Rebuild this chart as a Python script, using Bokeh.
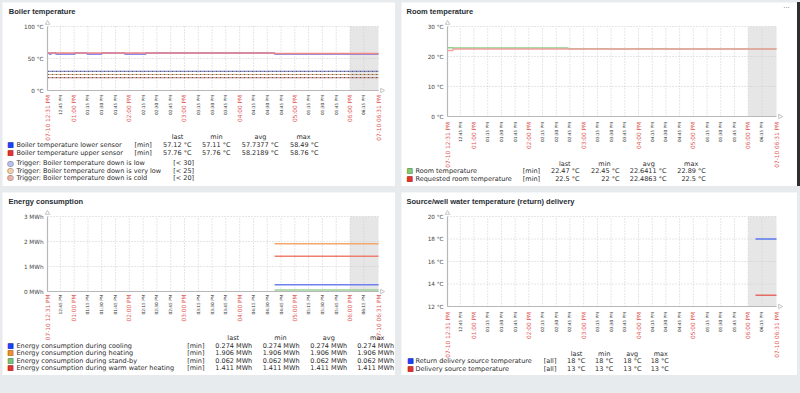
import math
from bokeh.plotting import figure
from bokeh.models import Range1d, BoxAnnotation, Spacer
from bokeh.layouts import row, column
from bokeh.core.properties import value
from bokeh.embed import file_html
from bokeh.resources import INLINE

# ---------------- data ----------------
# time axis: minutes after midnight on 07-10
t_start = 751   # 12:31 PM
t_end = 1111    # 06:31 PM
shade_start = 1080  # 06:00 PM
tick_times = [751, 765, 780, 795, 810, 825, 840, 855, 870, 885, 900, 915, 930,
              945, 960, 975, 990, 1005, 1020, 1035, 1050, 1065, 1080, 1095, 1111]
tick_labels = ["07-10 12:31 PM", "12:45 PM", "01:00 PM", "01:15 PM", "01:30 PM", "01:45 PM",
               "02:00 PM", "02:15 PM", "02:30 PM", "02:45 PM", "03:00 PM", "03:15 PM",
               "03:30 PM", "03:45 PM", "04:00 PM", "04:15 PM", "04:30 PM", "04:45 PM",
               "05:00 PM", "05:15 PM", "05:30 PM", "05:45 PM", "06:00 PM", "06:15 PM",
               "07-10 06:31 PM"]

# Boiler temperature
boiler_lower_t = [751, 753, 755, 760, 781, 794, 810, 835, 858, 998, 1111]
boiler_lower_v = [58.49, 57.11, 58.49, 57.11, 58.49, 57.11, 58.49, 57.11, 58.49, 57.12, 57.12]
boiler_upper_t = [751, 998, 1111]
boiler_upper_v = [58.76, 57.76, 57.76]
boiler_names = ["Boiler temperature lower sensor", "Boiler temperature upper sensor"]
boiler_stats = [["57.12 °C", "57.11 °C", "57.7377 °C", "58.49 °C"],
                ["57.76 °C", "57.76 °C", "58.2189 °C", "58.76 °C"]]
trigger_values = [30, 25, 20]
trigger_names = ["Trigger: Boiler temperature down is low",
                 "Trigger: Boiler temperature down is very low",
                 "Trigger: Boiler temperature down is cold"]
trigger_limits = ["[< 30]", "[< 25]", "[< 20]"]
boiler_yticks = [0, 50, 100]
boiler_ylabels = ["0 °C", "50 °C", "100 °C"]

# Room temperature
room_t = [751, 757, 883, 929, 953, 991, 1111]
room_v = [22.89, 22.85, 22.62, 22.5, 22.62, 22.47, 22.47]
req_t = [751, 757, 1111]
req_v = [22.0, 22.5, 22.5]
room_names = ["Room temperature", "Requested room temperature"]
room_stats = [["22.47 °C", "22.45 °C", "22.6411 °C", "22.89 °C"],
              ["22.5 °C", "22 °C", "22.4863 °C", "22.5 °C"]]
room_yticks = [0, 10, 20, 30]
room_ylabels = ["0 °C", "10 °C", "20 °C", "30 °C"]

# Energy consumption (MWh)
energy_t = [998, 1111]
energy_cooling = [0.274, 0.274]
energy_heating = [1.906, 1.906]
energy_standby = [0.062, 0.062]
energy_warm = [1.411, 1.411]
energy_names = ["Energy consumption during cooling", "Energy consumption during heating",
                "Energy consumption during stand-by", "Energy consumption during warm water heating"]
energy_stats = [["0.274 MWh"] * 4, ["1.906 MWh"] * 4, ["0.062 MWh"] * 4, ["1.411 MWh"] * 4]
energy_yticks = [0, 1, 2, 3]
energy_ylabels = ["0 MWh", "1 MWh", "2 MWh", "3 MWh"]

# Source / well water
source_t = [1088, 1111]
source_return = [18, 18]
source_delivery = [13, 13]
source_names = ["Return delivery source temperature", "Delivery source temperature"]
source_stats = [["18 °C"] * 4, ["13 °C"] * 4]
source_yticks = [12, 14, 16, 18, 20]
source_ylabels = ["12 °C", "14 °C", "16 °C", "18 °C", "20 °C"]

stat_headers = ["last", "min", "avg", "max"]

# ---------------- styling ----------------
FONT = "DejaVu Sans"
TITLE_FONT = "Liberation Sans"
TXT = "#2b2b2b"
RED_LBL = "#e05a58"
GREY_LBL = "#2e2e2e"
AXIS_C = "#b8b8b8"
GRID_C = "#cdcdcd"


class Panel:
    """One dashboard widget: a single figure whose frame covers the whole widget.
    The default ranges are set so that the plot area (L..W-R, T..T+FH) shows
    t_start..t_end and ymin..ymax; the 'px'/'py' ranges address widget pixels."""

    def __init__(self, g, title, ymin, ymax, yticks, ylabels):
        self.g = g
        W, H, L, R, T, FH = g["W"], g["H"], g["L"], g["R"], g["T"], g["FH"]
        self.W, self.H = W, H
        kx = (t_end - t_start) / (W - L - R)
        ky = (ymax - ymin) / FH
        p = figure(width=W, height=H,
                   x_range=Range1d(t_start - L * kx, t_end + R * kx),
                   y_range=Range1d(ymin - (H - T - FH) * ky, ymax + T * ky),
                   output_backend="svg", toolbar_location=None,
                   x_axis_location=None, y_axis_location=None, min_border=0, title=None)
        p.extra_x_ranges = {"px": Range1d(0, W)}
        p.extra_y_ranges = {"py": Range1d(0, H)}
        p.grid.visible = False
        p.outline_line_color = None
        p.background_fill_color = "white"
        p.border_fill_color = "white"
        self.p = p
        # shaded period
        p.add_layout(BoxAnnotation(left=shade_start, right=t_end, bottom=ymin, top=ymax,
                                   fill_color="#e6e6e6", fill_alpha=1, line_color=None, level="image"))
        # grid
        p.segment(x0=tick_times[1:-1], y0=[ymin] * (len(tick_times) - 2), x1=tick_times[1:-1],
                  y1=[ymax] * (len(tick_times) - 2), line_color=GRID_C, line_dash="1 2", line_width=1)
        p.segment(x0=[t_start] * len(yticks), y0=yticks, x1=[t_end] * len(yticks), y1=yticks,
                  line_color=GRID_C, line_dash="1 2", line_width=1)
        self.ymin, self.ymax = ymin, ymax
        # y tick labels
        p.text(x=[t_start] * len(yticks), y=yticks, text=ylabels, x_offset=-4,
               text_align="right", text_baseline="middle", text_font=value(FONT),
               text_font_size=value("5.7px"), text_color="#444444")
        # time labels
        ty = H - g["ty"]
        major = [i for i, (t, lab) in enumerate(zip(tick_times, tick_labels))
                 if lab.startswith("07-10") or t % 60 == 0]
        minor = [i for i in range(len(tick_times)) if i not in major]
        for idx, size, col in ((major, "5.8px", RED_LBL), (minor, "4.3px", GREY_LBL)):
            p.text(x=[tick_times[i] for i in idx], y=[ty] * len(idx),
                   text=[tick_labels[i] for i in idx], angle=math.pi / 2, text_align="right",
                   text_baseline="middle", text_font=value(FONT), text_font_size=value(size),
                   text_color=col, y_range_name="py")
        # title
        self.text(g["tx"], 8.5, title, size="7.5px", color="#1f2c33", font=TITLE_FONT, style="bold")

    def axes(self):
        p, g = self.p, self.g
        p.line(x=[t_start, t_end], y=[self.ymin, self.ymin], line_color=AXIS_C, line_width=1.2)
        p.line(x=[t_start, t_start], y=[self.ymin, self.ymax], line_color=AXIS_C, line_width=1.2)
        p.scatter(x=[g["L"]], y=[self.H - g["T"] + 3.5], marker="triangle", size=4.5,
                  line_color="#c4c4c4", fill_color="white", x_range_name="px", y_range_name="py")
        p.scatter(x=[self.W - g["R"] + 3.5], y=[self.H - g["T"] - g["FH"]], marker="triangle",
                  angle=-math.pi / 2, size=4.5, line_color="#c4c4c4", fill_color="white",
                  x_range_name="px", y_range_name="py")

    def text(self, px, py, text, size="6.5px", color=TXT, align="left", font=FONT, style="normal"):
        self.p.text(x=[px], y=[self.H - py], text=[text], text_font=value(font),
                    text_font_size=value(size), text_color=color, text_align=align,
                    text_baseline="middle", text_font_style=style,
                    x_range_name="px", y_range_name="py")

    def square(self, px, py, fill, border):
        self.text(px, py, "■", size="7px", color=fill, align="center")
        self.text(px, py, "□", size="7px", color=border, align="center")

    def circle(self, px, py, fill, border):
        self.text(px, py, "●", size="8px", color=fill, align="center")
        self.text(px, py, "○", size="8px", color=border, align="center")

    def stats(self, names, stats, fills, borders, rows_y, header_y, tag, tag_x, col_right, head_x, sq_x):
        for h, hx in zip(stat_headers, head_x):
            self.text(hx, header_y, h, align="center")
        for name, st, f, b, y in zip(names, stats, fills, borders, rows_y):
            self.square(sq_x, y, f, b)
            self.text(14, y, name)
            self.text(tag_x, y, tag)
            for v, cx in zip(st, col_right):
                self.text(cx, y, v, align="right")


gTL = dict(W=393, H=184, L=45, R=17, T=24, FH=64, tx=6.3, ty=92.5)
gTR = dict(W=396, H=184, L=46, R=21, T=24, FH=90, tx=5, ty=119.5)
gBL = dict(W=393, H=183, L=45, R=17, T=24, FH=75, tx=6, ty=102)
gBR = dict(W=396, H=183, L=46, R=21, T=24, FH=90, tx=5, ty=119.5)

# Boiler temperature
P1 = Panel(gTL, "Boiler temperature", 0, 100, boiler_yticks, boiler_ylabels)
p1 = P1.p
trig_colors = ["#7f86e0", "#f3ad6c", "#ec8c80"]
for v, c in zip(trigger_values, trig_colors):
    p1.line(x=[t_start, t_end], y=[v, v], line_color="#5a5a5a", line_dash="2 2", line_width=1.2)
    p1.line(x=[t_start, t_end], y=[v, v], line_color=c, line_dash="2 2", line_dash_offset=2,
            line_width=1.2)
p1.step(boiler_lower_t, boiler_lower_v, mode="after", line_color="#6a6ae8", line_width=1.5)
p1.step(boiler_upper_t, boiler_upper_v, mode="after", line_color="#f08a86", line_width=1.5)
P1.axes()
P1.stats(boiler_names, boiler_stats, ["#1f3fff", "#e8322c"], ["#102080", "#801810"],
         [142.5, 150], 134.7, "[min]", 132, [189, 228, 276, 316], [175, 214, 258, 301], 8)
trig_fill = ["#b8c0ee", "#f8cfa4", "#f2b0a6"]
for name, lim, f, y in zip(trigger_names, trigger_limits, trig_fill, [160.7, 168, 175.3]):
    P1.circle(8, y, f, "#777777")
    P1.text(14, y, name)
    P1.text(170.7, y, lim)

# Room temperature
P2 = Panel(gTR, "Room temperature", 0, 30, room_yticks, room_ylabels)
p2 = P2.p
p2.step(room_t, room_v, mode="after", line_color="#8fcf86", line_width=1.5)
p2.step(req_t, req_v, mode="after", line_color="#f2a0a0", line_width=1.5)
P2.axes()
P2.stats(room_names, room_stats, ["#88c878", "#e8322c"], ["#2f7a2a", "#801810"],
         [168.3, 176], 161, "[min]", 121.3, [178, 218, 265, 304.3], [163.3, 203, 247.3, 289.7], 8.3)
P2.text(gTR["W"] - 11, 5, "···", size="7px", color="#777777", align="center")

# Energy consumption
P3 = Panel(gBL, "Energy consumption", 0, 3, energy_yticks, energy_ylabels)
p3 = P3.p
p3.step(energy_t, energy_cooling, mode="after", line_color="#7080f0", line_width=1.5)
p3.step(energy_t, energy_heating, mode="after", line_color="#f3a66e", line_width=1.5)
p3.step(energy_t, energy_standby, mode="after", line_color="#9ccf96", line_width=1.5)
p3.step(energy_t, energy_warm, mode="after", line_color="#ee7e70", line_width=1.5)
P3.axes()
P3.stats(energy_names, energy_stats,
         ["#1f3fff", "#f0902a", "#7cc07c", "#e8322c"], ["#102080", "#8a4a10", "#2f7a2a", "#801810"],
         [153, 160.7, 168, 175.7], 145, "[min]", 184.7, [249.7, 297, 344.7, 391.5],
         [230.7, 278, 326.3, 374.7], 8)

# Source/well water
P4 = Panel(gBR, "Source/well water temperature (return) delivery", 12, 20, source_yticks, source_ylabels)
p4 = P4.p
p4.step(source_t, source_return, mode="after", line_color="#5b78ee", line_width=1.5)
p4.step(source_t, source_delivery, mode="after", line_color="#e46a64", line_width=1.5)
P4.axes()
P4.stats(source_names, source_stats, ["#1f3fff", "#e8322c"], ["#102080", "#801810"],
         [168.3, 176], 161, "[all]", 142.3, [183.7, 211.7, 240, 267.3], [175, 202.7, 230.7, 259.3], 9)

top = row(Spacer(width=2), p1, Spacer(width=6), p2,
          Spacer(width=3, height=184, styles={"background-color": "#2e2e2e"}))
bottom = row(Spacer(width=2), p3, Spacer(width=6), p4)
page = column(Spacer(height=2), top, Spacer(height=6), bottom, Spacer(height=18),
              styles={"background-color": "#e8ebed"})

open("out.html", "w").write(file_html(page, INLINE))
